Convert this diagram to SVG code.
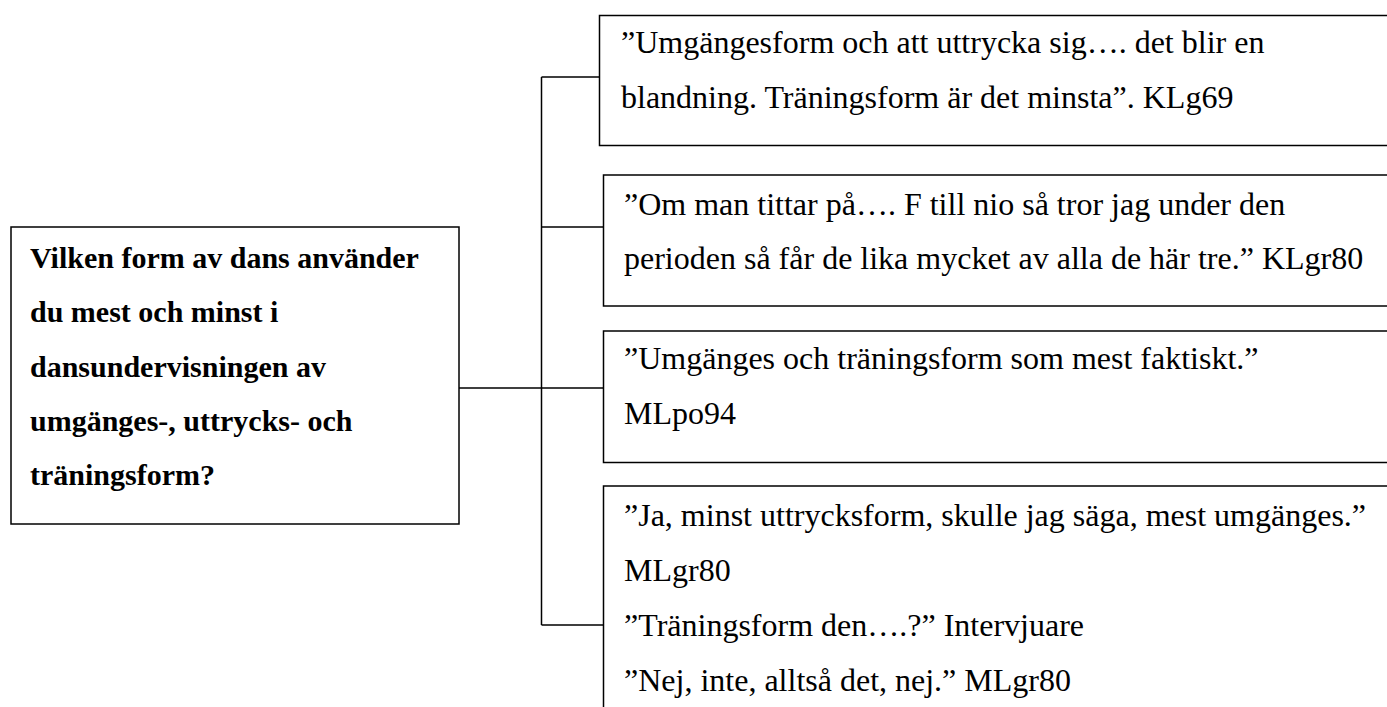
<svg xmlns="http://www.w3.org/2000/svg" width="1387" height="707" viewBox="0 0 1387 707">
<style>
.box{fill:#fff;stroke:#000;stroke-width:1.5}
.conn{fill:none;stroke:#000;stroke-width:1.5}
.t{font-family:"Liberation Serif","Times New Roman",serif;font-size:32px;fill:#000}
.q{font-family:"Liberation Serif","Times New Roman",serif;font-size:30px;font-weight:bold;fill:#000}
</style>
<rect width="1387" height="707" fill="#fff"/>
<g id="connectors">
<path class="conn" d="M541.5,77 V625 M541.5,77 H603 M541.5,227 H603 M459,388 H603 M541.5,625 H603"/>
</g>
<g id="question">
<rect class="box" x="11" y="227" width="448" height="297"/>
<text class="q" x="30" y="268">Vilken form av dans använder</text>
<text class="q" x="30" y="322">du mest och minst i</text>
<text class="q" x="30" y="377">dansundervisningen av</text>
<text class="q" x="30" y="431">umgänges-, uttrycks- och</text>
<text class="q" x="30" y="485">träningsform?</text>
</g>
<g id="answer1">
<rect class="box" x="599.5" y="15.5" width="820" height="130"/>
<text class="t" x="621" y="53">”Umgängesform och att uttrycka sig…. det blir en</text>
<text class="t" x="621" y="108">blandning. Träningsform är det minsta”. KLg69</text>
</g>
<g id="answer2">
<rect class="box" x="603.5" y="175" width="820" height="131"/>
<text class="t" x="624" y="215">”Om man tittar på…. F till nio så tror jag under den</text>
<text class="t" x="624" y="269">perioden så får de lika mycket av alla de här tre.” KLgr80</text>
</g>
<g id="answer3">
<rect class="box" x="603.5" y="331" width="820" height="131.5"/>
<text class="t" x="624" y="369">”Umgänges och träningsform som mest faktiskt.”</text>
<text class="t" x="624" y="424">MLpo94</text>
</g>
<g id="answer4">
<rect class="box" x="603.5" y="486" width="820" height="260"/>
<text class="t" x="624" y="526">”Ja, minst uttrycksform, skulle jag säga, mest umgänges.”</text>
<text class="t" x="624" y="581">MLgr80</text>
<text class="t" x="624" y="636">”Träningsform den….?” Intervjuare</text>
<text class="t" x="624" y="691">”Nej, inte, alltså det, nej.” MLgr80</text>
</g>
</svg>
